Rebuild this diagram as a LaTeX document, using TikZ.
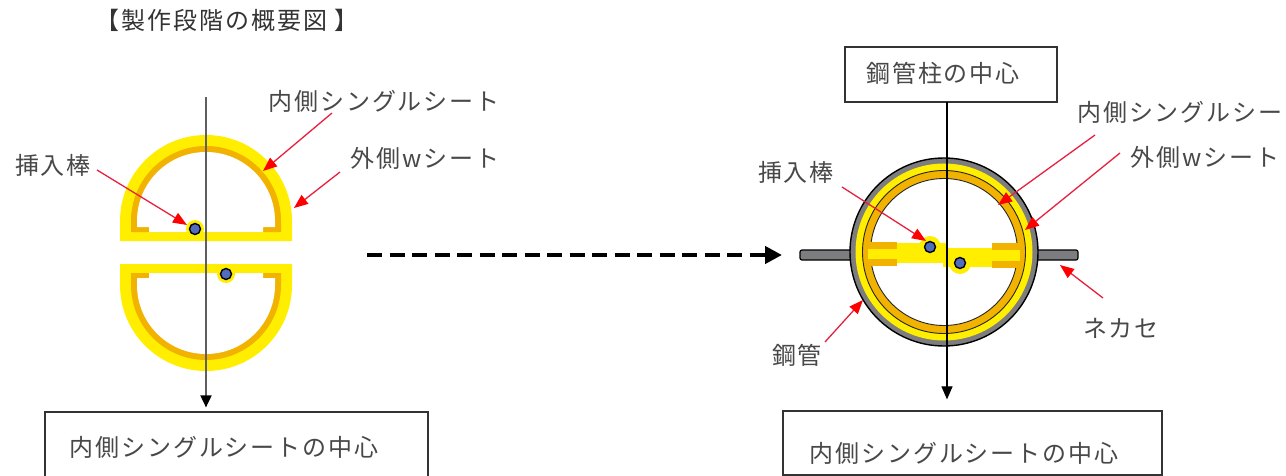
\documentclass[tikz,border=0pt]{standalone}
\usepackage{fontspec}
\newfontfamily\jpfont[LetterSpace=8]{Noto Sans CJK JP}
\usetikzlibrary{arrows.meta}

\definecolor{sheetY}{RGB}{255,238,0}
\definecolor{sheetO}{RGB}{242,178,0}
\definecolor{pipeG}{RGB}{125,125,128}
\definecolor{arrowR}{RGB}{232,32,62}
\definecolor{txt}{RGB}{72,72,72}
\definecolor{dotB}{RGB}{82,108,190}
\definecolor{axisG}{RGB}{95,95,95}

\begin{document}
\begin{tikzpicture}[x=1pt,y=-1pt,
  jp/.style={font=\jpfont\fontsize{24}{28}\selectfont, text=txt, inner sep=0pt},
  frame/.style={draw=black!80, line width=1.2pt, fill=white, inner sep=0pt},
  pointer/.style={draw=arrowR, line width=1.3pt,
    -{Triangle[length=14pt,width=11pt,color=red]}},
  rod/.style={fill=dotB, draw=black, line width=1.4pt},
  stub/.style={fill=sheetO},
]
\useasboundingbox (0,0) rectangle (1286,476);
\clip (0,0) rectangle (1286,476);

% title
\node[jp, text=black!80] (title) at (227,20) {【製作段階の概要図 】};

% ---------------- left: the two sheet halves before assembly ----------------
% upper half (outer W sheet in yellow, inner single sheet in orange)
\fill[sheetY] (120,241) -- (120,221) arc[start angle=180,end angle=360,radius=86] -- (292,241) -- cycle;
\fill[sheetO] (131,232) -- (131,221) arc[start angle=180,end angle=360,radius=75] -- (281,232) -- cycle;
\fill[white] (149,232) -- (149,227) -- (137,227) -- (137,221)
  arc[start angle=180,end angle=360,radius=69] -- (275,227) -- (263,227) -- (263,232) -- cycle;
\fill[sheetY] (195,229) circle[radius=9];
\node[rod, circle, minimum size=11pt, inner sep=0pt] (rodA) at (195,229) {};

% lower half
\fill[sheetY] (120,264) -- (120,285) arc[start angle=180,end angle=0,radius=86] -- (292,264) -- cycle;
\fill[sheetO] (131,273) -- (131,285) arc[start angle=180,end angle=0,radius=75] -- (281,273) -- cycle;
\fill[white] (149,273) -- (149,278) -- (137,278) -- (137,285)
  arc[start angle=180,end angle=0,radius=69] -- (275,278) -- (263,278) -- (263,273) -- cycle;
\fill[sheetY] (226,274) circle[radius=9];
\node[rod, circle, minimum size=11pt, inner sep=0pt] (rodB) at (226,274) {};

% centre line of the inner single sheet
\node[frame, minimum width=383pt, minimum height=80pt] (lbox) at (236.5,452) {};
\node[jp] (lboxtxt) at (224,447) {内側シングルシートの中心};
\coordinate (ltop) at (206,97);
\draw[axisG, line width=1.8pt, -{Triangle[length=12pt,width=11pt,color=black]}, shorten >=4pt]
  (ltop) -- (ltop |- lbox.north);

% labels and pointers
\node[jp] (lrodlbl) at (53,165) {挿入棒};
\node[jp] (linnerlbl) at (384,101) {内側シングルシート};
\node[jp] (louterlbl) at (425,158) {外側wシート};
\coordinate (lrodA) at (97,170);   \coordinate (lrodB) at (187,225);
\coordinate (linA) at (332,113);   \coordinate (linB) at (263,171);
\coordinate (loutA) at (340,172);  \coordinate (loutB) at (294,208);
\draw[pointer] (lrodA) -- (lrodB);
\draw[pointer] (linA) -- (linB);
\draw[pointer] (loutA) -- (loutB);

% ---------------- transition arrow ----------------
\coordinate (stepA) at (367,255);
\coordinate (stepB) at (782,255);
\draw[black, line width=4.5pt, dash pattern=on 15pt off 7.5pt,
  -{Triangle[length=17pt,width=17pt]}] (stepA) -- (stepB);

% ---------------- right: sheets inside the steel pipe ----------------
% nekase bars
\draw[fill=pipeG, line width=1.2pt, rounded corners=2pt] (800,250) rectangle (856,260);
\draw[fill=pipeG, line width=1.2pt, rounded corners=2pt] (1032,250) rectangle (1078,260);
% steel pipe and the two sheets
\coordinate (pc) at (944,252);
\draw[fill=pipeG, line width=1.4pt] (pc) circle[radius=94];
\fill[sheetY] (pc) circle[radius=88.5];
\draw[fill=sheetO, line width=0.9pt, draw=black!85] (pc) circle[radius=81.5];
\draw[fill=white, line width=0.9pt, draw=black!85] (pc) circle[radius=73.5];
% flat parts of the two halves
\fill[sheetY] (868,243) rectangle (947,263);
\fill[sheetY] (943,248) rectangle (1020,267);
\fill[stub] (868,242) rectangle (897,249);
\fill[stub] (868,259) rectangle (897,266);
\fill[stub] (992,243) rectangle (1020,250);
\fill[stub] (992,261) rectangle (1020,268);
\fill[sheetY] (930,247) circle[radius=11];
\fill[sheetY] (960,263) circle[radius=11];
\node[rod, circle, minimum size=11pt, inner sep=0pt] (rodC) at (930,247) {};
\node[rod, circle, minimum size=11pt, inner sep=0pt] (rodD) at (960,263) {};

% centre of the steel column and of the inner sheet
\node[frame, minimum width=212pt, minimum height=55pt] (pbox) at (951,74.5) {};
\node[jp] (pboxtxt) at (943,73) {鋼管柱の中心};
\node[frame, minimum width=379pt, minimum height=64pt] (rbox) at (972.5,443) {};
\node[jp] (rboxtxt) at (964,453) {内側シングルシートの中心};
\coordinate (rtop) at (947,102);
\draw[black, line width=1.1pt, -{Triangle[length=13pt,width=11pt]}, shorten >=11pt]
  (rtop) -- (rtop |- rbox.north);

% labels and pointers
\node[jp] (rrodlbl) at (796,172) {挿入棒};
\node[jp, anchor=west] (rinnerlbl) at (1077,112) {内側シングルシート};
\node[jp] (routerlbl) at (1205,157) {外側wシート};
\node[jp] (nekaselbl) at (1121,328) {ネカセ};
\node[jp] (pipelbl) at (797,355) {鋼管};
\coordinate (rrodA) at (842,187);  \coordinate (rrodB) at (926,241);
\coordinate (rinA) at (1095,135);  \coordinate (rinB) at (998,205);
\coordinate (routA) at (1120,153); \coordinate (routB) at (1025,230);
\coordinate (nekA) at (1103,298);  \coordinate (nekB) at (1060,265);
\coordinate (pipA) at (825,342);   \coordinate (pipB) at (863,300);
\draw[pointer] (rrodA) -- (rrodB);
\draw[pointer] (rinA) -- (rinB);
\draw[pointer] (routA) -- (routB);
\draw[pointer] (nekA) -- (nekB);
\draw[pointer] (pipA) -- (pipB);
\end{tikzpicture}
\end{document}
